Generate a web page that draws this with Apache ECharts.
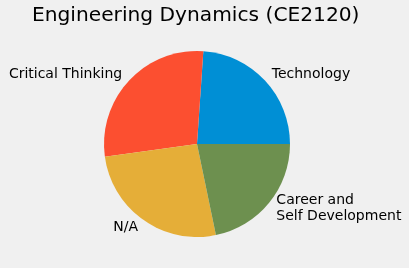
<!DOCTYPE html>
<html>
<head>
<meta charset="utf-8">
<script src="https://cdn.jsdelivr.net/npm/echarts@6/dist/echarts.min.js"></script>
<style>
html,body{margin:0;padding:0;background:#f0f0f0;}
#chart{width:409px;height:268px;}
</style>
</head>
<body>
<div id="chart"></div>
<script>
const titleText = 'Engineering Dynamics (CE2120)';
const categories = ['Technology', 'Critical Thinking', 'N/A', 'Career and\nSelf Development'];
const values = [11, 13, 12, 10];
const colors = ['#008fd5', '#fc4f30', '#e5ae38', '#6d904f'];

const chart = echarts.init(document.getElementById('chart'), null, {renderer: 'canvas'});
const R = 93;
chart.setOption({
  animation: false,
  backgroundColor: '#f0f0f0',
  title: {
    text: titleText,
    left: 27,
    top: 1,
    textStyle: {fontFamily: 'DejaVu Sans', fontWeight: 'normal', fontSize: 20.2, color: '#000000'}
  },
  series: [{
    type: 'pie',
    center: [197, 144],
    radius: R,
    startAngle: 0,
    clockwise: false,
    avoidLabelOverlap: false,
    data: categories.map((c, i) => ({name: c, value: values[i], itemStyle: {color: colors[i]}})),
    itemStyle: {borderWidth: 0},
    label: {
      show: true,
      position: 'outside',
      distanceToLabelLine: 0,
      fontFamily: 'DejaVu Sans',
      fontSize: 14,
      lineHeight: 16,
      color: '#000000',
      formatter: '{b}'
    },
    labelLine: {show: false, length: R * 0.1, length2: 0},
    emphasis: {disabled: true}
  }]
});
</script>
</body>
</html>
